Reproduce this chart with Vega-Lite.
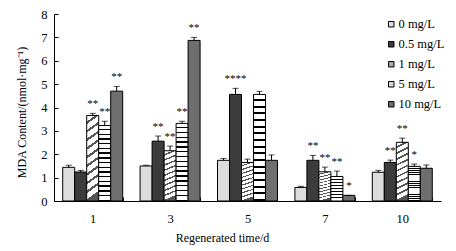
{
  "$schema": "https://vega.github.io/schema/vega-lite/v6.json",
  "width": 387,
  "height": 187,
  "autosize": {"type": "none"},
  "padding": {"left": 54, "top": 14, "right": 15, "bottom": 50},
  "config": {
    "view": {"stroke": null},
    "font": "Times New Roman, Liberation Serif, serif",
    "axis": {
      "labelFont": "Times New Roman, Liberation Serif, serif",
      "titleFont": "Times New Roman, Liberation Serif, serif",
      "labelColor": "black",
      "titleColor": "black",
      "domainColor": "black",
      "tickColor": "black",
      "labelFontSize": 12.5,
      "titleFontSize": 12,
      "titleFontWeight": "normal",
      "grid": false
    },
    "axisY": {
      "tickCount": 8,
      "labelOverlap": false,
      "tickSize": -4,
      "labelPadding": 11,
      "titlePadding": 12,
      "titleY": 98
    }
  },
  "data": {
    "values": [
      {"day": "1", "conc": "0 mg/L", "value": 1.44, "err": 1.53, "sig": ""},
      {"day": "1", "conc": "0.5 mg/L", "value": 1.24, "err": 1.31, "sig": ""},
      {"day": "1", "conc": "1 mg/L", "value": 3.66, "err": 3.75, "sig": "**"},
      {"day": "1", "conc": "5 mg/L", "value": 3.23, "err": 3.41, "sig": "**"},
      {"day": "1", "conc": "10 mg/L", "value": 4.70, "err": 4.90, "sig": "**"},
      {"day": "3", "conc": "0 mg/L", "value": 1.50, "err": 1.53, "sig": ""},
      {"day": "3", "conc": "0.5 mg/L", "value": 2.56, "err": 2.78, "sig": "**"},
      {"day": "3", "conc": "1 mg/L", "value": 2.15, "err": 2.35, "sig": "**"},
      {"day": "3", "conc": "5 mg/L", "value": 3.32, "err": 3.41, "sig": "**"},
      {"day": "3", "conc": "10 mg/L", "value": 6.87, "err": 7.00, "sig": "**"},
      {"day": "5", "conc": "0 mg/L", "value": 1.74, "err": 1.82, "sig": ""},
      {"day": "5", "conc": "0.5 mg/L", "value": 4.56, "err": 4.82, "sig": "****"},
      {"day": "5", "conc": "1 mg/L", "value": 1.65, "err": 1.79, "sig": ""},
      {"day": "5", "conc": "5 mg/L", "value": 4.56, "err": 4.69, "sig": ""},
      {"day": "5", "conc": "10 mg/L", "value": 1.74, "err": 1.97, "sig": ""},
      {"day": "7", "conc": "0 mg/L", "value": 0.58, "err": 0.63, "sig": ""},
      {"day": "7", "conc": "0.5 mg/L", "value": 1.74, "err": 1.95, "sig": "**"},
      {"day": "7", "conc": "1 mg/L", "value": 1.25, "err": 1.45, "sig": "**"},
      {"day": "7", "conc": "5 mg/L", "value": 1.05, "err": 1.28, "sig": "**"},
      {"day": "7", "conc": "10 mg/L", "value": 0.24, "err": 0.24, "sig": "*"},
      {"day": "10", "conc": "0 mg/L", "value": 1.23, "err": 1.31, "sig": ""},
      {"day": "10", "conc": "0.5 mg/L", "value": 1.65, "err": 1.75, "sig": "**"},
      {"day": "10", "conc": "1 mg/L", "value": 2.51, "err": 2.69, "sig": "**"},
      {"day": "10", "conc": "5 mg/L", "value": 1.48, "err": 1.58, "sig": "*"},
      {"day": "10", "conc": "10 mg/L", "value": 1.40, "err": 1.54, "sig": ""}
    ]
  },
  "encoding": {
    "x": {
      "field": "day",
      "type": "nominal",
      "sort": ["1", "3", "5", "7", "10"],
      "scale": {"paddingInner": 0.225, "paddingOuter": 0.1125},
      "axis": {
        "title": "Regenerated time/d",
        "labelAngle": 0,
        "tickBand": "extent",
        "tickSize": -4,
        "labelPadding": 15,
        "titlePadding": 8,
        "titleX": 168
      }
    },
    "xOffset": {
      "field": "conc",
      "type": "nominal",
      "sort": ["0 mg/L", "0.5 mg/L", "1 mg/L", "5 mg/L", "10 mg/L"],
      "scale": {"paddingInner": 0, "paddingOuter": 0}
    }
  },
  "layer": [
    {
      "mark": {"type": "bar", "stroke": "black", "strokeWidth": 1},
      "encoding": {
        "y": {
          "field": "value",
          "type": "quantitative",
          "title": "MDA Content/(nmol·mg⁻¹)",
          "scale": {"domain": [0, 8]}
        },
        "color": {
          "condition": [
            {"test": "datum.conc === '1 mg/L'", "value": {"gradient": "linear", "x1": 0, "y1": 0, "x2": 0.1, "y2": 1, "stops": [
                {"offset": 0, "color": "#ffffff"}, {"offset": 0.07, "color": "#ffffff"}, {"offset": 0.07, "color": "#555555"}, {"offset": 0.1, "color": "#555555"},
                {"offset": 0.1, "color": "#ffffff"}, {"offset": 0.17, "color": "#ffffff"}, {"offset": 0.17, "color": "#555555"}, {"offset": 0.2, "color": "#555555"},
                {"offset": 0.2, "color": "#ffffff"}, {"offset": 0.27, "color": "#ffffff"}, {"offset": 0.27, "color": "#555555"}, {"offset": 0.3, "color": "#555555"},
                {"offset": 0.3, "color": "#ffffff"}, {"offset": 0.37, "color": "#ffffff"}, {"offset": 0.37, "color": "#555555"}, {"offset": 0.4, "color": "#555555"},
                {"offset": 0.4, "color": "#ffffff"}, {"offset": 0.47, "color": "#ffffff"}, {"offset": 0.47, "color": "#555555"}, {"offset": 0.5, "color": "#555555"},
                {"offset": 0.5, "color": "#ffffff"}, {"offset": 0.57, "color": "#ffffff"}, {"offset": 0.57, "color": "#555555"}, {"offset": 0.6, "color": "#555555"},
                {"offset": 0.6, "color": "#ffffff"}, {"offset": 0.67, "color": "#ffffff"}, {"offset": 0.67, "color": "#555555"}, {"offset": 0.7, "color": "#555555"},
                {"offset": 0.7, "color": "#ffffff"}, {"offset": 0.77, "color": "#ffffff"}, {"offset": 0.77, "color": "#555555"}, {"offset": 0.8, "color": "#555555"},
                {"offset": 0.8, "color": "#ffffff"}, {"offset": 0.87, "color": "#ffffff"}, {"offset": 0.87, "color": "#555555"}, {"offset": 0.9, "color": "#555555"},
                {"offset": 0.9, "color": "#ffffff"}, {"offset": 0.97, "color": "#ffffff"}, {"offset": 0.97, "color": "#555555"}, {"offset": 1, "color": "#555555"}
              ]}},
            {"test": "datum.conc === '5 mg/L'", "value": {"gradient": "linear", "x1": 0, "y1": 0, "x2": 0, "y2": 1, "stops": [
                {"offset": 0, "color": "#ffffff"}, {"offset": 0.044, "color": "#ffffff"}, {"offset": 0.044, "color": "#000000"}, {"offset": 0.0625, "color": "#000000"},
                {"offset": 0.0625, "color": "#ffffff"}, {"offset": 0.1065, "color": "#ffffff"}, {"offset": 0.1065, "color": "#000000"}, {"offset": 0.125, "color": "#000000"},
                {"offset": 0.125, "color": "#ffffff"}, {"offset": 0.169, "color": "#ffffff"}, {"offset": 0.169, "color": "#000000"}, {"offset": 0.1875, "color": "#000000"},
                {"offset": 0.1875, "color": "#ffffff"}, {"offset": 0.2315, "color": "#ffffff"}, {"offset": 0.2315, "color": "#000000"}, {"offset": 0.25, "color": "#000000"},
                {"offset": 0.25, "color": "#ffffff"}, {"offset": 0.294, "color": "#ffffff"}, {"offset": 0.294, "color": "#000000"}, {"offset": 0.3125, "color": "#000000"},
                {"offset": 0.3125, "color": "#ffffff"}, {"offset": 0.3565, "color": "#ffffff"}, {"offset": 0.3565, "color": "#000000"}, {"offset": 0.375, "color": "#000000"},
                {"offset": 0.375, "color": "#ffffff"}, {"offset": 0.419, "color": "#ffffff"}, {"offset": 0.419, "color": "#000000"}, {"offset": 0.4375, "color": "#000000"},
                {"offset": 0.4375, "color": "#ffffff"}, {"offset": 0.4815, "color": "#ffffff"}, {"offset": 0.4815, "color": "#000000"}, {"offset": 0.5, "color": "#000000"},
                {"offset": 0.5, "color": "#ffffff"}, {"offset": 0.544, "color": "#ffffff"}, {"offset": 0.544, "color": "#000000"}, {"offset": 0.5625, "color": "#000000"},
                {"offset": 0.5625, "color": "#ffffff"}, {"offset": 0.6065, "color": "#ffffff"}, {"offset": 0.6065, "color": "#000000"}, {"offset": 0.625, "color": "#000000"},
                {"offset": 0.625, "color": "#ffffff"}, {"offset": 0.669, "color": "#ffffff"}, {"offset": 0.669, "color": "#000000"}, {"offset": 0.6875, "color": "#000000"},
                {"offset": 0.6875, "color": "#ffffff"}, {"offset": 0.7315, "color": "#ffffff"}, {"offset": 0.7315, "color": "#000000"}, {"offset": 0.75, "color": "#000000"},
                {"offset": 0.75, "color": "#ffffff"}, {"offset": 0.794, "color": "#ffffff"}, {"offset": 0.794, "color": "#000000"}, {"offset": 0.8125, "color": "#000000"},
                {"offset": 0.8125, "color": "#ffffff"}, {"offset": 0.8565, "color": "#ffffff"}, {"offset": 0.8565, "color": "#000000"}, {"offset": 0.875, "color": "#000000"},
                {"offset": 0.875, "color": "#ffffff"}, {"offset": 0.919, "color": "#ffffff"}, {"offset": 0.919, "color": "#000000"}, {"offset": 0.9375, "color": "#000000"},
                {"offset": 0.9375, "color": "#ffffff"}, {"offset": 0.9815, "color": "#ffffff"}, {"offset": 0.9815, "color": "#000000"}, {"offset": 1, "color": "#000000"}
              ]}}
          ],
          "field": "conc",
          "type": "nominal",
          "sort": ["0 mg/L", "0.5 mg/L", "1 mg/L", "5 mg/L", "10 mg/L"],
          "scale": {
            "domain": ["0 mg/L", "0.5 mg/L", "1 mg/L", "5 mg/L", "10 mg/L"],
            "range": ["#dcdcdc", "#3c3c3c", "#a8a8a8", "#d8d8d8", "#6e6e6e"]
          },
          "legend": {
            "orient": "none",
            "legendX": 331,
            "legendY": 4,
            "title": null,
            "symbolType": "square",
            "symbolSize": 30,
            "symbolStrokeColor": "black",
            "symbolStrokeWidth": 1,
            "labelFont": "Times New Roman, Liberation Serif, serif",
            "labelFontSize": 12.5,
            "labelColor": "black",
            "labelOffset": 1,
            "rowPadding": 7
          }
        }
      }
    },
    {
      "mark": {"type": "rule", "color": "black", "strokeWidth": 1},
      "encoding": {
        "y": {"field": "value", "type": "quantitative", "title": "MDA Content/(nmol·mg⁻¹)"},
        "y2": {"field": "err"}
      }
    },
    {
      "mark": {"type": "tick", "color": "black", "thickness": 1, "size": 6},
      "encoding": {
        "y": {"field": "err", "type": "quantitative", "title": "MDA Content/(nmol·mg⁻¹)"}
      }
    },
    {
      "mark": {"type": "text", "baseline": "alphabetic", "dy": -6, "fontSize": 11, "font": "Times New Roman, Liberation Serif, serif", "color": "black"},
      "encoding": {
        "y": {"field": "err", "type": "quantitative", "title": "MDA Content/(nmol·mg⁻¹)"},
        "text": {"field": "sig"}
      }
    }
  ]
}
